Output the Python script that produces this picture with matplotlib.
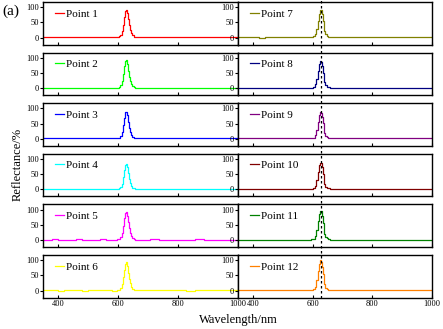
#!/usr/bin/env python3
"""Reflectance spectra of 12 points, two columns of stacked panels."""
import matplotlib.pyplot as plt
from matplotlib.lines import Line2D

plt.rcParams["font.family"] = ["Liberation Serif", "DejaVu Serif"]

WAVELENGTH = [350, 370, 390, 410, 430, 450, 470, 490, 510, 530, 550, 570, 590,
              600, 605, 610, 615, 620, 623, 626, 629, 632, 635, 638, 641, 645,
              650, 655, 660, 670, 690, 720, 750, 780, 810, 840, 870, 900, 930,
              960, 1000]

P1 = [2, 2, 1, 2, 2, 1, 2, 2, 1, 2, 2, 1, 1, 2, 4, 9, 20, 42, 66, 86, 92, 82, 62, 42, 26, 14, 7, 3, 2, 1, 2, 1, 2, 1, 1, 2, 1, 2, 1, 1, 1]
P2 = [1, 1, 2, 1, 1, 2, 1, 1, 2, 1, 1, 1, 2, 1, 4, 10, 24, 48, 72, 90, 93, 80, 58, 38, 23, 12, 6, 3, 2, 1, 1, 1, 1, 1, 2, 1, 1, 1, 2, 1, 1]
P3 = [3, 2, 3, 1, 2, 2, 2, 1, 2, 2, 1, 2, 2, 2, 4, 9, 21, 44, 68, 87, 89, 77, 56, 36, 22, 11, 6, 3, 2, 1, 1, 2, 2, 1, 1, 2, 1, 1, 2, 1, 1]
P4 = [1, 1, 1, 1, 1, 0, 1, 1, 1, 1, 1, 2, 1, 1, 3, 8, 19, 40, 63, 81, 85, 73, 53, 35, 21, 11, 5, 3, 1, 1, 1, 1, 1, 1, 1, 1, 1, 1, 1, 1, 1]
P5 = [1, 1, 2, 1, 1, 1, 2, 1, 1, 1, 2, 1, 1, 2, 4, 9, 22, 46, 71, 89, 93, 80, 58, 38, 23, 12, 6, 3, 1, 1, 1, 2, 1, 1, 1, 1, 2, 1, 1, 1, 1]
P6 = [1, 1, 1, 0, 1, 1, 1, 0, 1, 1, 1, 1, 0, 1, 3, 9, 21, 44, 69, 89, 94, 81, 59, 39, 24, 12, 6, 3, 1, 1, 1, 1, 1, 1, 1, 0, 1, 1, 1, 1, 1]
P7 = [1, 2, 1, 1, 0, 1, 2, 1, 1, 1, 1, 2, 1, 2, 4, 11, 28, 54, 78, 90, 92, 78, 56, 36, 21, 10, 5, 3, 1, 1, 1, 1, 2, 1, 1, 1, 1, 1, 1, 2, 1]
P8 = [1, 1, 1, 2, 1, 1, 2, 1, 1, 1, 1, 1, 2, 2, 5, 12, 30, 57, 80, 88, 86, 72, 51, 33, 19, 9, 5, 3, 1, 1, 1, 1, 1, 1, 1, 1, 1, 2, 1, 2, 1]
P9 = [1, 1, 1, 1, 2, 1, 1, 1, 1, 1, 1, 1, 2, 2, 4, 11, 28, 55, 78, 87, 86, 72, 52, 33, 19, 9, 5, 3, 1, 1, 1, 1, 1, 1, 1, 1, 1, 1, 1, 1, 1]
P10 = [1, 1, 1, 1, 2, 2, 1, 1, 1, 1, 1, 2, 1, 2, 4, 11, 30, 57, 80, 88, 86, 72, 52, 33, 19, 9, 5, 3, 1, 1, 1, 1, 1, 1, 1, 1, 1, 1, 1, 1, 1]
P11 = [1, 1, 0, 1, 1, 1, 1, 0, 1, 1, 1, 1, 1, 2, 4, 12, 32, 61, 85, 96, 94, 78, 55, 35, 20, 9, 5, 3, 1, 1, 1, 1, 1, 0, 1, 1, 0, 1, 1, 1, 1]
P12 = [1, 1, 2, 1, 1, 2, 1, 1, 2, 1, 1, 2, 1, 2, 5, 13, 34, 65, 89, 100, 95, 78, 55, 35, 20, 9, 5, 3, 1, 1, 1, 2, 1, 1, 2, 1, 1, 2, 1, 1, 1]

SERIES = [P1, P2, P3, P4, P5, P6, P7, P8, P9, P10, P11, P12]
LABELS = [f"Point {i}" for i in range(1, 13)]
COLORS = ["#ff0000", "#00ff00", "#0000ff", "#00ffff", "#ff00ff", "#ffff00",
          "#808000", "#000080", "#800080", "#800000", "#008000", "#ff8000"]

X_TICKS = [400, 600, 800, 1000]
Y_TICKS = [0, 50, 100]
MARK_WAVELENGTH = 628

W, H = 443, 329


def panel_rect(col: int, row: int):
    left = 43 if col == 0 else 238
    width = 195 if col == 0 else 194
    top = 2 + row * 50.6
    height = 42.5
    return [left / W, 1 - (top + height) / H, width / W, height / H]


def main() -> None:
    fig = plt.figure(figsize=(W / 100, H / 100), dpi=100)
    axes = []
    for idx, (vals, label, color) in enumerate(zip(SERIES, LABELS, COLORS)):
        col, row = divmod(idx, 6)
        ax = fig.add_axes(panel_rect(col, row))
        ax.plot(WAVELENGTH, vals, color=color, lw=0.9, drawstyle="steps-mid", label=label)
        ax.set_xlim(350, 1000)
        ax.set_ylim(-23, 117)
        ax.set_xticks(X_TICKS)
        ax.set_yticks(Y_TICKS)
        ax.tick_params(axis="x", direction="in", length=2, width=0.8, labelsize=6, pad=2)
        ax.tick_params(axis="y", direction="out", length=2, width=0.8, labelsize=6, pad=1)
        if row != 5:
            ax.tick_params(axis="x", labelbottom=False)
        for sp in ax.spines.values():
            sp.set_linewidth(1.0)
        ax.legend(loc="upper left", bbox_to_anchor=(0.06, 0.84), frameon=False,
                  fontsize=8, handlelength=0.8, handletextpad=0.2,
                  borderpad=0, borderaxespad=0)
        axes.append(ax)

    # dashed marker through the right column
    top_ax = axes[6]
    bot_ax = axes[11]
    x_disp = top_ax.transData.transform((MARK_WAVELENGTH, 0))[0]
    x_fig = fig.transFigure.inverted().transform((x_disp, 0))[0]
    y_bot = bot_ax.get_position().y0
    fig.add_artist(Line2D([x_fig, x_fig], [y_bot, 1.0], transform=fig.transFigure,
                          color="black", lw=0.9, ls=(0, (2, 2))))

    fig.text(0.005, 0.985, "(a)", fontsize=11, ha="left", va="top")
    fig.text(18 / W, 0.5, "Reflectance/%", fontsize=9, rotation=90, ha="center", va="center")
    fig.text(238 / W, 1 - 320 / H, "Wavelength/nm", fontsize=9, ha="center", va="center")

    fig.savefig("out.png", dpi=100)


if __name__ == "__main__":
    main()
